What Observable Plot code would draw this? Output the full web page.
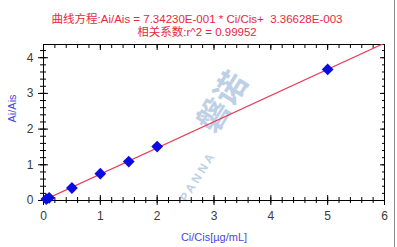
<!DOCTYPE html>
<html>
<head>
<meta charset="utf-8">
<script src="https://cdn.jsdelivr.net/npm/d3@7"></script>
<script src="https://cdn.jsdelivr.net/npm/@observablehq/plot@0.6"></script>
<style>
  html, body { margin: 0; padding: 0; background: #fff; }
  #wrap { position: relative; width: 397px; height: 247px; overflow: hidden; }
  #edge { position: absolute; left: 394px; top: 0; width: 1px; height: 247px; background: #8a8a8a; }
  .wm text { letter-spacing: 3px; }
</style>
</head>
<body>
<div id="wrap"><div id="edge"></div></div>
<script>
// Calibration data
const conc = [0.05, 0.1, 0.5, 1, 1.5, 2, 5];          // Ci/Cis [µg/mL]
const ratio = [0.04, 0.075, 0.35, 0.75, 1.09, 1.51, 3.67]; // Ai/Ais
// Regression shown in the title
const slope = 0.734230;
const intercept = 0.00336628;
const fitX = [0, 6];
// Ticks
const xMajor = [0, 1, 2, 3, 4, 5, 6];
const yMajor = [0, 1, 2, 3, 4];
const xMinor = d3.range(0, 6.001, 0.2);
const yMinor = d3.range(0, 4.3, 0.2);
// Texts
const title1 = "曲线方程:Ai/Ais = 7.34230E-001 * Ci/Cis+  3.36628E-003";
const title2 = "相关系数:r^2 = 0.99952";
const xLabel = "Ci/Cis[µg/mL]";
const yLabel = "Ai/Ais";

const points = conc.map((c, i) => ({x: c, y: ratio[i]}));
const fit = fitX.map(x => ({x, y: slope * x + intercept}));

const font = "Arial, 'Liberation Sans', 'Noto Sans CJK SC', sans-serif";
const blank = () => "";
const red = "#e6283e";
const blue = "#4b46e0";

const chart = Plot.plot({
  width: 397,
  height: 247,
  marginTop: 44,
  marginBottom: 47,
  marginLeft: 43,
  marginRight: 13,
  style: {fontFamily: font, background: "transparent", color: "#000"},
  x: {domain: [0, 6], label: null},
  y: {domain: [0, 4.37], label: null},
  marks: [
    // watermark
    Plot.text(["磐诺"], {frameAnchor: "middle", dx: 9, dy: -20, rotate: -58, fontSize: 32, fontWeight: "bold", fill: "#bed0e6", text: d => d}),
    Plot.text(["PANNA"], {frameAnchor: "middle", dx: -16, dy: 54, rotate: -58, fontSize: 12, fontWeight: "bold", fill: "#bed0e6", text: d => d, className: "wm"}),
    Plot.frame({stroke: "#000"}),
    // bottom ticks (crossing)
    Plot.axisX(xMinor, {anchor: "bottom", tickSize: 3, tickFormat: blank}),
    Plot.axisX(xMinor, {anchor: "bottom", tickSize: -3, tickFormat: blank}),
    Plot.axisX(xMajor, {anchor: "bottom", tickSize: 5, tickFormat: blank}),
    Plot.axisX(xMajor, {anchor: "bottom", tickSize: -5, tickFormat: blank}),
    Plot.axisX(xMajor, {anchor: "bottom", tickSize: 0, tickPadding: 11, fontSize: 12, fill: "#3a3a3a", tickFormat: d => String(d)}),
    // top ticks (inward)
    Plot.axisX(xMinor, {anchor: "top", tickSize: -3, tickFormat: blank}),
    Plot.axisX(xMajor, {anchor: "top", tickSize: -5, tickFormat: blank}),
    // left ticks (crossing)
    Plot.axisY(yMinor, {anchor: "left", tickSize: 3, tickFormat: blank}),
    Plot.axisY(yMinor, {anchor: "left", tickSize: -3, tickFormat: blank}),
    Plot.axisY(yMajor, {anchor: "left", tickSize: 5, tickFormat: blank}),
    Plot.axisY(yMajor, {anchor: "left", tickSize: -5, tickFormat: blank}),
    Plot.axisY(yMajor, {anchor: "left", tickSize: 0, tickPadding: 10, fontSize: 12, fill: "#3a3a3a", tickFormat: d => String(d)}),
    // right ticks (inward)
    Plot.axisY(yMinor, {anchor: "right", tickSize: -3, tickFormat: blank}),
    Plot.axisY(yMajor, {anchor: "right", tickSize: -5, tickFormat: blank}),
    // fit line and points
    Plot.line(fit, {x: "x", y: "y", stroke: "#e8405a", strokeWidth: 1.2, clip: true}),
    Plot.dot(points, {x: "x", y: "y", symbol: "diamond2", r: 5.3, fill: "#0c0ce0", stroke: "none"}),
    // titles and labels
    Plot.text([title1], {frameAnchor: "top", dx: -17, dy: -30, fill: red, fontSize: 11.5, text: d => d}),
    Plot.text([title2], {frameAnchor: "top", dx: -17, dy: -16.5, fill: red, fontSize: 11.5, text: d => d}),
    Plot.text([xLabel], {frameAnchor: "bottom", dy: 40, fill: blue, fontSize: 11, text: d => d}),
    Plot.text([yLabel], {frameAnchor: "left", dx: -31, rotate: -90, fill: blue, fontSize: 11, text: d => d})
  ]
});
document.getElementById("wrap").appendChild(chart);
</script>
</body>
</html>
